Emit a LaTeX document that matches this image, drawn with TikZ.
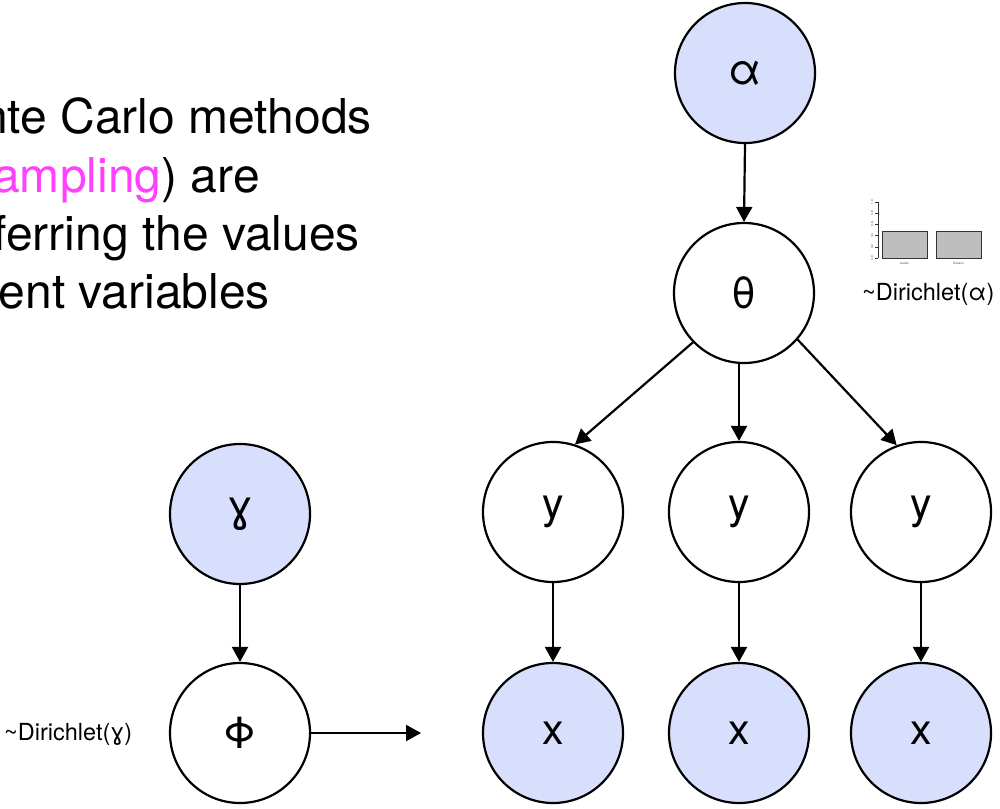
\documentclass[tikz,border=0pt]{standalone}
\usepackage{fontspec}
\setmainfont{TeX Gyre Heros}
\newfontfamily\dejavu{DejaVu Sans}
\usetikzlibrary{arrows.meta}
\definecolor{obs}{RGB}{216,223,252}
\definecolor{mag}{RGB}{255,64,255}
\definecolor{bargray}{RGB}{190,190,190}
\begin{document}
\begin{tikzpicture}[x=1pt,y=-1pt,
  var/.style={circle,draw,line width=2.2pt,minimum size=140pt,inner sep=0pt,font=\fontsize{43}{43}\selectfont},
  obsv/.style={var,fill=obs},
  edge/.style={line width=2.2pt,-{Triangle[length=15pt,width=16pt]}},
  body/.style={anchor=base east,inner sep=0pt,font=\fontsize{48}{48}\selectfont},
  lab/.style={font=\fontsize{23.5}{23.5}\selectfont,inner sep=0pt},
  tiny/.style={font=\fontsize{3}{3}\selectfont,inner sep=0pt,text=black!70},
  bar/.style={draw=black!80,line width=1pt,fill=bargray}]
\useasboundingbox (0,0) rectangle (1000,808);

% body text
\node[body] (l1) at (372,133) {nte Carlo methods};
\node[body] (l2) at (260,192) {\textcolor{mag}{ampling}) are};
\node[body] (l3) at (360,250) {ferring the values};
\node[body] (l4) at (270,308) {ent variables};

% nodes
\node[obsv] (alpha) at (745,73) {α};
\node[var] (theta) at (744,293) {θ};
\node[var] (y1) at (553,512) {y};
\node[var] (y2) at (739,512) {y};
\node[var] (y3) at (921,512) {y};
\node[obsv] (x1) at (553,733) {x};
\node[obsv] (x2) at (739,733) {x};
\node[obsv] (x3) at (921,733) {x};
\node[obsv] (gamma) at (240,514) {\dejavu ɣ};
\node[var] (phi) at (240,733) {Φ};
\coordinate (phiend) at (421,733);

% edges
\draw[edge] (alpha.south) -- (theta.north);
\draw[edge] (theta.224) -- (y1.72);
\draw[edge] (theta.south -| y2.north) -- (y2.north);
\draw[edge] (theta.319) -- (y3.110);
\draw[edge] (y1.south) -- (x1.north);
\draw[edge] (y2.south) -- (x2.north);
\draw[edge] (y3.south) -- (x3.north);
\draw[edge] (gamma.south) -- (phi.north);
\draw[edge] (phi.east) -- (phiend);

% labels
\node[lab,anchor=west] (dira) at (862,294) {\textasciitilde Dirichlet(α)};
\node[lab,anchor=west] (dirg) at (4,734) {\textasciitilde Dirichlet({\dejavu ɣ})};

% small bar chart
\draw[line width=0.6pt,black!80] (878,202) -- (878,258);
\foreach \i/\t in {0/0.0,1/0.2,2/0.4,3/0.6,4/0.8,5/1.0}{
  \draw[line width=0.4pt,black!80] (875,258-11.2*\i) -- (878,258-11.2*\i);
  \node[tiny,rotate=90] at (872,258-11.2*\i) {\t};
}
\draw[bar] (882,231) rectangle (927,258);
\draw[bar] (936,231) rectangle (981,258);
\node[tiny] (austen) at (904.5,263) {Austen};
\node[tiny] (dickens) at (958.5,263) {Dickens};
\end{tikzpicture}
\end{document}
